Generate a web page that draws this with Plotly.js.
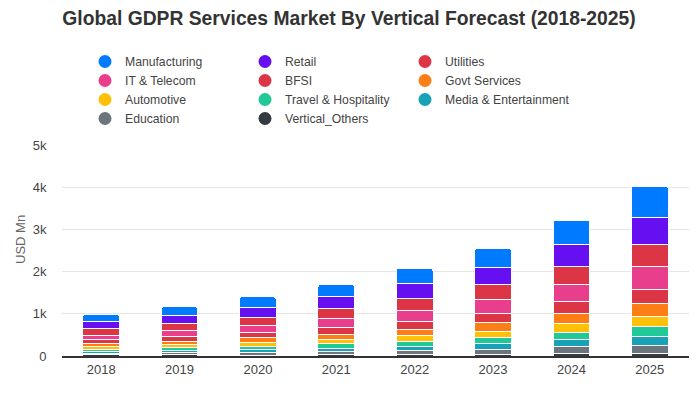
<!DOCTYPE html>
<html>
<head>
<meta charset="utf-8">
<script src="https://cdn.plot.ly/plotly-3.0.1.min.js"></script>
<style>html,body{margin:0;padding:0;background:#fff;}#chart{width:700px;height:400px;}</style>
</head>
<body>
<div id="chart"></div>
<script>
var years = ['2018', '2019', '2020', '2021', '2022', '2023', '2024', '2025'];
var legendOrder = ['Manufacturing', 'Retail', 'Utilities', 'IT & Telecom', 'BFSI', 'Govt Services', 'Automotive', 'Travel & Hospitality', 'Media & Entertainment', 'Education', 'Vertical_Others'];
var manufacturing = [161, 197, 256, 275, 355, 457, 583, 746];
var retail        = [166, 197, 232, 284, 355, 403, 521, 635];
var utilities     = [166, 171, 187, 242, 284, 355, 427, 521];
var itTelecom     = [90, 142, 173, 213, 265, 332, 403, 545];
var bfsi          = [95, 118, 118, 166, 190, 225, 284, 332];
var govtServices  = [71, 71, 118, 111, 142, 213, 237, 308];
var automotive    = [76, 71, 95, 102, 142, 135, 213, 237];
var travel        = [47, 66, 71, 111, 118, 137, 166, 237];
var media         = [47, 52, 71, 71, 95, 142, 166, 213];
var education     = [35, 58, 63, 90, 88, 116, 170, 182];
var verticalOthers= [25, 25, 20, 25, 43, 43, 50, 71];
var yTitle = 'USD Mn';

var seriesValues = {
  'Manufacturing': manufacturing, 'Retail': retail, 'Utilities': utilities,
  'IT & Telecom': itTelecom, 'BFSI': bfsi, 'Govt Services': govtServices,
  'Automotive': automotive, 'Travel & Hospitality': travel,
  'Media & Entertainment': media, 'Education': education, 'Vertical_Others': verticalOthers
};
var colors = {
  'Manufacturing': '#007bff', 'Retail': '#6610f2', 'Utilities': '#dc3545',
  'IT & Telecom': '#e83e8c', 'BFSI': '#dc3545', 'Govt Services': '#fd7e14',
  'Automotive': '#ffc107', 'Travel & Hospitality': '#20c997',
  'Media & Entertainment': '#17a2b8', 'Education': '#6c757d', 'Vertical_Others': '#343a40'
};

var traces = [];
// stacked bars: bottom first
var stackOrder = legendOrder.slice().reverse();
stackOrder.forEach(function (name) {
  traces.push({
    type: 'bar', name: name, x: years, y: seriesValues[name],
    marker: {color: colors[name], line: {color: '#ffffff', width: 1}},
    showlegend: false, hovertemplate: '%{x}: %{y}<extra>' + name + '</extra>'
  });
});
// legend entries with circle markers, laid out in three columns (row-major order)
var legendIds = ['legend', 'legend2', 'legend3'];
legendOrder.forEach(function (name, i) {
  traces.push({
    type: 'scatter', mode: 'markers', name: name, x: [null], y: [null],
    marker: {color: colors[name], size: 13, symbol: 'circle'},
    showlegend: true, hoverinfo: 'skip', legend: legendIds[i % 3]
  });
});

function legendBox(px) {
  return {
    orientation: 'v', xref: 'container', yref: 'container',
    x: px / 700, y: 1 - 47 / 400, xanchor: 'left', yanchor: 'top',
    traceorder: 'normal', font: {size: 12.2, color: '#444'},
    bgcolor: 'rgba(0,0,0,0)', itemclick: false, itemdoubleclick: false
  };
}

var layout = {
  width: 700, height: 400,
  margin: {l: 62, r: 11, t: 145, b: 44, autoexpand: false},
  paper_bgcolor: '#ffffff', plot_bgcolor: '#ffffff',
  font: {family: 'Liberation Sans, Arial, sans-serif', size: 13, color: '#444'},
  title: {
    text: '<b>Global GDPR Services Market By Vertical Forecast (2018-2025)</b>',
    x: 349 / 700, xanchor: 'center', xref: 'container', y: 1 - 18 / 400, yanchor: 'middle', yref: 'container',
    font: {size: 19.3, color: '#333'}
  },
  barmode: 'stack', bargap: 0.53, barcornerradius: 3,
  xaxis: {
    type: 'category', showgrid: false, showline: true, linecolor: '#333', linewidth: 2,
    ticks: '', tickfont: {size: 13, color: '#444'}
  },
  yaxis: {
    range: [0, 5000], dtick: 1000, tickformat: '~s', showgrid: true, gridcolor: '#e5e5e5',
    zeroline: false, ticks: 'outside', ticklen: 12, tickcolor: 'rgba(0,0,0,0)',
    tickfont: {size: 13, color: '#444'}
  },
  annotations: [{
    text: yTitle, textangle: -90, showarrow: false,
    xref: 'paper', yref: 'paper', x: (20 - 62) / 627, y: (356 - 240) / 211,
    xanchor: 'center', yanchor: 'middle', font: {size: 13, color: '#666'}
  }],
  legend: legendBox(85),
  legend2: legendBox(245),
  legend3: legendBox(405),
  showlegend: true
};

Plotly.newPlot('chart', traces, layout, {displayModeBar: false, staticPlot: true});
</script>
</body>
</html>
